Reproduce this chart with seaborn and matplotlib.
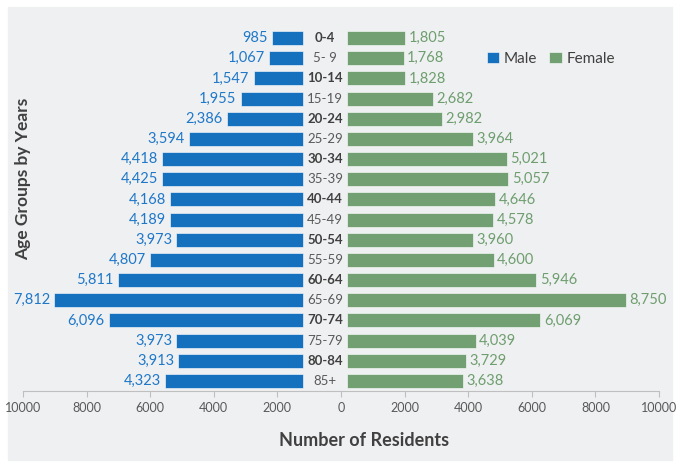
import numpy as np
import matplotlib.pyplot as plt
import pandas as pd
import seaborn as sns
from matplotlib.patches import Rectangle

groups = ['0-4', '5- 9', '10-14', '15-19', '20-24', '25-29', '30-34', '35-39',
          '40-44', '45-49', '50-54', '55-59', '60-64', '65-69', '70-74',
          '75-79', '80-84', '85+']
male = [985, 1067, 1547, 1955, 2386, 3594, 4418, 4425, 4168, 4189, 3973,
        4807, 5811, 7812, 6096, 3973, 3913, 4323]
female = [1805, 1768, 1828, 2682, 2982, 3964, 5021, 5057, 4646, 4578, 3960,
          4600, 5946, 8750, 6069, 4039, 3729, 3638]
xticks = [-10000, -8000, -6000, -4000, -2000, 0, 2000, 4000, 6000, 8000, 10000]

male_c = '#1570BE'
female_c = '#72A072'
male_txt = '#1F78C8'
female_txt = '#6E9E6E'
m_off = -1200  # gap for the age labels
f_off = 200

df = pd.DataFrame({
    'group': groups * 2,
    'sex': ['Male'] * len(groups) + ['Female'] * len(groups),
    'value': [-v for v in male] + female,
})

sns.set_style('white')
plt.rcParams['font.family'] = ['Lato', 'DejaVu Sans']

fig = plt.figure(figsize=(6.79, 4.67), dpi=100)
fig.patches.append(Rectangle((8 / 679, 0.015), 664 / 679, 0.97,
                             transform=fig.transFigure, color='#EFF0F2', zorder=-1))
ax = fig.add_axes([23 / 679, 1 - 391 / 467, 636 / 679, 363 / 467])
ax.set_facecolor('none')

sns.barplot(data=df, y='group', x='value', hue='sex', order=groups,
            palette={'Male': male_c, 'Female': female_c}, dodge=False,
            saturation=1, width=0.7, orient='h', ax=ax,
            edgecolor='white', linewidth=0.4)

# shift bars away from the centre to leave room for the age labels
for p in ax.patches:
    if p.get_width() < 0:
        p.set_x(m_off)
    elif p.get_width() > 0:
        p.set_x(f_off)

for i, g in enumerate(groups):
    ax.text(m_off - male[i] - 130, i, f'{male[i]:,}', ha='right', va='center',
            color=male_txt, fontsize=10.5)
    ax.text(f_off + female[i] + 110, i, f'{female[i]:,}', ha='left', va='center',
            color=female_txt, fontsize=10.5)
    bold = i % 2 == 0
    ax.text(-500, i, g, ha='center', va='center', fontsize=9.5,
            fontweight='bold' if bold else 'normal',
            color='#404040' if bold else '#595959')

ax.set_xlim(-10000, 10000)
ax.set_ylim(17.5, -0.5)
ax.set_xticks(xticks)
ax.set_xticklabels([str(abs(t)) for t in xticks], color='#595959', fontsize=9)
ax.set_yticks([])
ax.set_ylabel('')
ax.set_xlabel('Number of Residents', fontsize=13, fontweight='bold',
              color='#404040')
ax.xaxis.set_label_coords((364 - 23) / 636, -0.112)
for s in ['top', 'right', 'left']:
    ax.spines[s].set_visible(False)
ax.spines['bottom'].set_color('#BFBFBF')
ax.tick_params(axis='x', bottom=True, direction='out', length=4,
               color='#BFBFBF', pad=4)

fig.text(23 / 679, 1 - 179 / 467, 'Age Groups by Years', rotation=90,
         ha='center', va='center', fontsize=12.5, fontweight='bold',
         color='#404040')

ax.legend(loc='center', bbox_to_anchor=(0.83, 0.915), ncol=2, frameon=False,
          fontsize=11, handlelength=0.8, handleheight=0.8, handletextpad=0.3,
          columnspacing=0.8, labelcolor='#404040')

fig.savefig('out.png', dpi=100)
